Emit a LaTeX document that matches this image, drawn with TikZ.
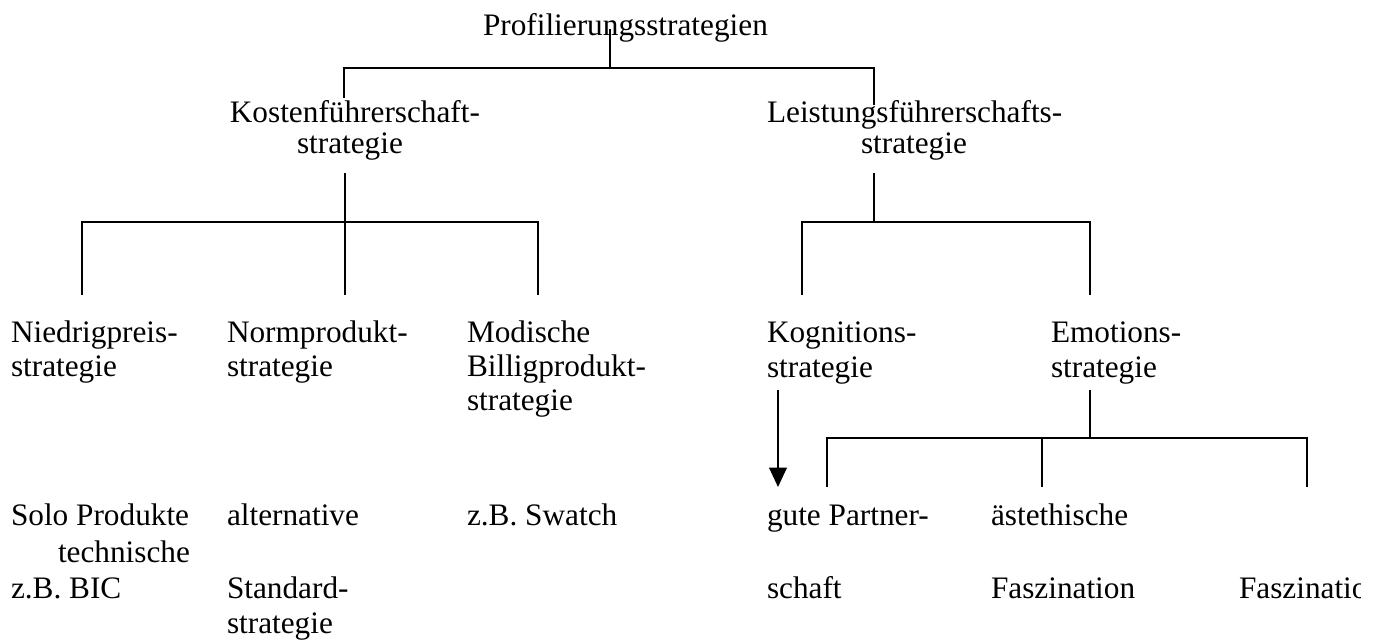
\documentclass[tikz,border=0pt]{standalone}
\usepackage{fontspec}
\setmainfont{Liberation Serif}
\usetikzlibrary{arrows.meta}
\begin{document}
\begin{tikzpicture}[x=0.02cm,y=-0.02cm,
  lbl/.style={inner sep=0pt,outer sep=0pt,anchor=base west,font=\fontsize{17.8}{21}\selectfont},
  conn/.style={line width=1.1pt,line cap=butt},
  arr/.style={conn,-{Triangle[length=11pt,width=10pt]}}]
\useasboundingbox (0,0) rectangle (1377,640);
% texts
\node[lbl] (top) at (483,35) {Profilierungsstrategien};
\node[lbl,anchor=base east] (k1) at (480,122) {Kostenführerschaft-};
\node[lbl] (k2) at (297,153) {strategie};
\node[lbl] (l1) at (767,122) {Leistungsführerschafts-};
\node[lbl] (l2) at (861,153) {strategie};
\node[lbl] (n1) at (11,342) {Niedrigpreis-};
\node[lbl] (n2) at (11,376) {strategie};
\node[lbl] (p1) at (227,342) {Normprodukt-};
\node[lbl] (p2) at (227,376) {strategie};
\node[lbl] (m1) at (467,342) {Modische};
\node[lbl] (m2) at (467,376) {Billigprodukt-};
\node[lbl] (m3) at (467,410) {strategie};
\node[lbl] (g1) at (767,342) {Kognitions-};
\node[lbl] (g2) at (767,377) {strategie};
\node[lbl] (e1) at (1051,342) {Emotions-};
\node[lbl] (e2) at (1051,377) {strategie};
\node[lbl] (s1) at (11,525) {Solo Produkte};
\node[lbl] (s2) at (58,562) {technische};
\node[lbl] (s3) at (11,598) {z.B. BIC};
\node[lbl] (a1) at (227,525) {alternative};
\node[lbl] (a2) at (227,598) {Standard-};
\node[lbl] (a3) at (227,633) {strategie};
\node[lbl] (w1) at (467,525) {z.B. Swatch};
\node[lbl] (q1) at (767,525) {gute Partner-};
\node[lbl] (q2) at (767,598) {schaft};
\node[lbl] (f1) at (991,525) {ästethische};
\node[lbl] (f2) at (991,598) {Faszination};
\begin{scope}
\clip (1200,560) rectangle (1360,620);
\node[lbl] (f3) at (1239,598) {Faszination};
\end{scope}
% junction coordinates
\coordinate (t0) at (610,29);
\coordinate (t1) at (610,68);
\coordinate (h1L) at (344,68);
\coordinate (h1R) at (874,68);
\coordinate (d1L) at (344,98);
\coordinate (d1R) at (874,105);
\coordinate (k0) at (345,173);
\coordinate (kh) at (345,222);
\coordinate (khL) at (82,222);
\coordinate (khR) at (538,222);
\coordinate (kdL) at (82,295);
\coordinate (kdM) at (345,295);
\coordinate (kdR) at (538,295);
\coordinate (l0) at (874,173);
\coordinate (lh) at (874,222);
\coordinate (lhL) at (802,222);
\coordinate (lhR) at (1090,222);
\coordinate (ldL) at (802,295);
\coordinate (ldR) at (1090,295);
\coordinate (ar0) at (778,390);
\coordinate (ar1) at (778,487);
\coordinate (e0) at (1090,390);
\coordinate (eh) at (1090,438);
\coordinate (ehL) at (827,438);
\coordinate (ehM) at (1042,438);
\coordinate (ehR) at (1307,438);
\coordinate (edL) at (827,487);
\coordinate (edM) at (1042,487);
\coordinate (edR) at (1307,487);
% connectors
\draw[conn] (t0) -- (t1);
\draw[conn] (d1L) -- (h1L) -- (h1R) -- (d1R);
\draw[conn] (k0) -- (kdM);
\draw[conn] (kdL) -- (khL) -- (khR) -- (kdR);
\draw[conn] (l0) -- (lh);
\draw[conn] (ldL) -- (lhL) -- (lhR) -- (ldR);
\draw[arr] (ar0) -- (ar1);
\draw[conn] (e0) -- (eh);
\draw[conn] (edL) -- (ehL) -- (ehR) -- (edR);
\draw[conn] (ehM) -- (edM);
\end{tikzpicture}
\end{document}
